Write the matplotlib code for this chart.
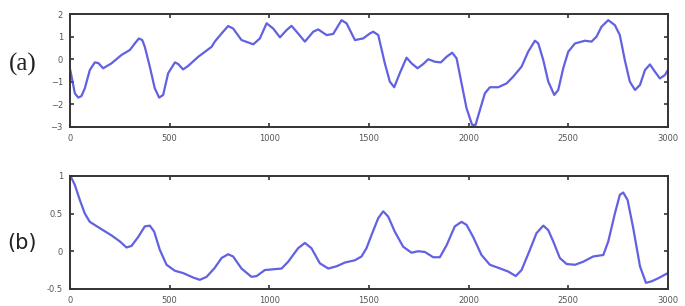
import matplotlib
matplotlib.use("Agg")
import matplotlib.pyplot as plt

# series (a)
xa = [0, 12, 25, 42, 58, 75, 100, 125, 143, 167, 209, 259, 301, 326, 346, 363, 376, 401, 426, 448, 468, 493,
      527, 543, 568, 593, 644, 711, 727, 761, 794, 819, 861, 920, 953, 987, 1020, 1054, 1087, 1112, 1145, 1179,
      1221, 1246, 1288, 1321, 1363, 1388, 1430, 1471, 1505, 1522, 1547, 1580, 1605, 1627, 1655, 1689, 1714, 1744,
      1773, 1798, 1831, 1861, 1890, 1918, 1940, 1965, 1990, 2018, 2035, 2057, 2082, 2107, 2149, 2191, 2224, 2266,
      2299, 2333, 2350, 2375, 2400, 2430, 2450, 2475, 2500, 2534, 2584, 2617, 2642, 2667, 2701, 2734, 2759, 2784,
      2809, 2835, 2860, 2885, 2910, 2935, 2960, 2985, 3000]
ya = [-0.40, -0.92, -1.51, -1.70, -1.63, -1.29, -0.48, -0.14, -0.17, -0.40, -0.18, 0.19, 0.41, 0.70, 0.92, 0.85,
      0.55, -0.33, -1.29, -1.70, -1.58, -0.62, -0.14, -0.21, -0.45, -0.30, 0.11, 0.55, 0.78, 1.14, 1.47, 1.36,
      0.85, 0.66, 0.92, 1.59, 1.36, 0.97, 1.29, 1.48, 1.14, 0.78, 1.22, 1.32, 1.07, 1.12, 1.73, 1.59, 0.85, 0.92,
      1.14, 1.22, 1.07, -0.18, -0.99, -1.24, -0.62, 0.07, -0.18, -0.40, -0.21, 0.00, -0.11, -0.14, 0.11, 0.29,
      0.04, -1.07, -2.17, -2.91, -2.91, -2.25, -1.51, -1.24, -1.24, -1.07, -0.77, -0.33, 0.33, 0.82, 0.70, -0.04,
      -0.99, -1.58, -1.36, -0.40, 0.33, 0.70, 0.82, 0.78, 1.00, 1.44, 1.73, 1.51, 1.07, -0.04, -0.99, -1.36,
      -1.14, -0.48, -0.23, -0.55, -0.85, -0.70, -0.48]

# series (b)
xb = [0, 5, 25, 50, 75, 100, 142, 209, 251, 284, 309, 343, 376, 401, 423, 451, 485, 527, 568, 619, 652, 686,
      727, 761, 794, 819, 861, 911, 937, 978, 1020, 1062, 1095, 1145, 1179, 1212, 1254, 1296, 1338, 1380, 1430,
      1463, 1488, 1514, 1547, 1572, 1597, 1630, 1672, 1714, 1747, 1781, 1823, 1856, 1890, 1931, 1965, 1990, 2023,
      2065, 2107, 2149, 2199, 2237, 2266, 2308, 2341, 2375, 2400, 2425, 2458, 2492, 2534, 2575, 2625, 2676, 2701,
      2734, 2759, 2776, 2798, 2826, 2860, 2890, 2918, 2951, 3000]
yb = [1.0, 0.99, 0.88, 0.68, 0.50, 0.39, 0.32, 0.21, 0.13, 0.05, 0.07, 0.19, 0.33, 0.34, 0.26, 0.02, -0.18,
      -0.26, -0.29, -0.35, -0.38, -0.34, -0.22, -0.09, -0.04, -0.07, -0.23, -0.34, -0.33, -0.25, -0.24, -0.23,
      -0.14, 0.04, 0.11, 0.04, -0.16, -0.23, -0.20, -0.15, -0.12, -0.07, 0.04, 0.22, 0.44, 0.53, 0.46, 0.26, 0.06,
      -0.02, 0.00, -0.01, -0.08, -0.08, 0.08, 0.33, 0.39, 0.35, 0.19, -0.05, -0.18, -0.22, -0.27, -0.33, -0.25,
      0.02, 0.24, 0.34, 0.28, 0.13, -0.09, -0.17, -0.18, -0.14, -0.07, -0.05, 0.13, 0.50, 0.75, 0.78, 0.68, 0.31,
      -0.20, -0.42, -0.40, -0.36, -0.29]

xticks = [0, 500, 1000, 1500, 2000, 2500, 3000]
yticks_a = [-3, -2, -1, 0, 1, 2]
yticks_b = [-0.5, 0, 0.5, 1]
yticklabels_b = ["-0.5", "0", "0.5", "1"]

fig = plt.figure(figsize=(6.85, 3.06), dpi=100)
ax1 = fig.add_axes([0.102, 0.585, 0.873, 0.369])
ax2 = fig.add_axes([0.102, 0.056, 0.873, 0.369])

line_color = "#4545dd"
for ax in (ax1, ax2):
    ax.set_xlim(0, 3000)
    ax.set_xticks(xticks)
    ax.tick_params(direction="in", top=True, right=True, length=3, width=1.2,
                   labelsize=6, labelcolor="#555555", pad=5, color="#333333")
    for s in ax.spines.values():
        s.set_linewidth(1.4)
        s.set_color("#333333")

ax1.plot(xa, ya, color=line_color, lw=1.6, alpha=0.85, solid_joinstyle="round")
ax1.set_ylim(-3, 2)
ax1.set_yticks(yticks_a)

ax2.plot(xb, yb, color=line_color, lw=1.6, alpha=0.85, solid_joinstyle="round")
ax2.set_ylim(-0.5, 1)
ax2.set_yticks(yticks_b)
ax2.set_yticklabels(yticklabels_b)

fig.text(0.033, 0.79, "(a)", fontsize=18, family="Liberation Serif", va="center", ha="center", color="#222222")
fig.text(0.032, 0.205, "(b)", fontsize=15, family="DejaVu Sans", va="center", ha="center", color="#222222")

fig.savefig("out.png", dpi=100)
